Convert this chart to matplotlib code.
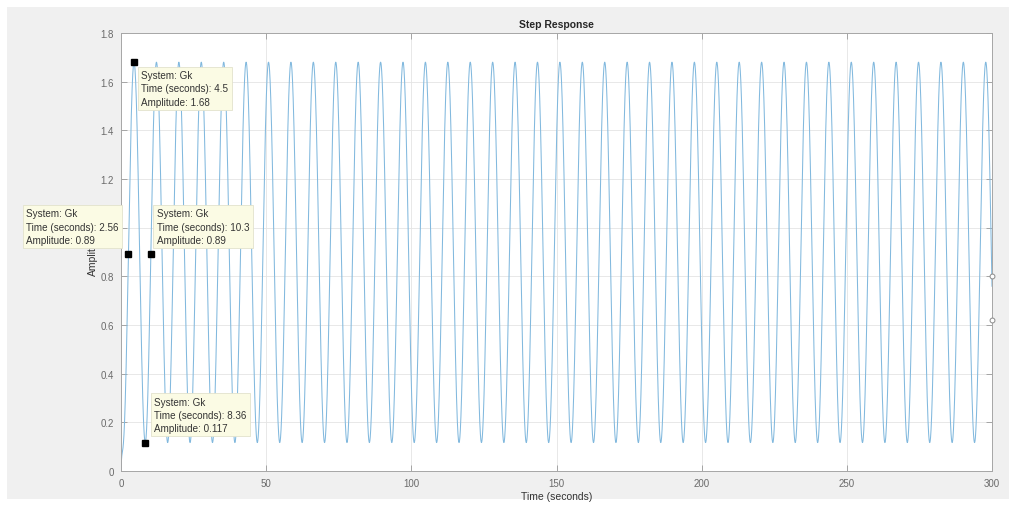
#!/usr/bin/env python3
"""
Step response of Gk: sustained oscillation read from the MATLAB data tips.
"""

import numpy as np
import matplotlib
matplotlib.use('Agg')
import matplotlib.pyplot as plt
from matplotlib.patches import Rectangle

# Data tips (time in seconds, amplitude)
tip_time = [2.56, 4.5, 8.36, 10.3]
tip_amp = [0.89, 1.68, 0.117, 0.89]

# Oscillation
peak_amp = 1.68
trough_amp = 0.117
period = 7.72          # 2 * (8.36 - 4.5)
up_cross = 2.56        # rising crossing of the mean
fast_tau = 0.3         # fast decaying pole, only shapes the first rise
t_end = 300.0

# Little circles at the right end of the curve
end_time = [300, 300]
end_amp = [0.80, 0.62]

x_ticks = [0, 50, 100, 150, 200, 250, 300]
y_ticks = [0, 0.2, 0.4, 0.6, 0.8, 1.0, 1.2, 1.4, 1.6, 1.8]

# Label offsets (pixels) of each data tip box
tip_offsets = [(-102, 46), (7, -8), (9, 46), (6, 46)]


def step_response():
    """Undamped mode plus a fast real pole, starting from zero."""
    t = np.arange(0, t_end + 0.01, 0.02)
    mean = (peak_amp + trough_amp) / 2
    amp = (peak_amp - trough_amp) / 2
    w = 2 * np.pi / period
    osc = mean + amp * np.sin(w * (t - up_cross))
    c0 = -(mean + amp * np.sin(-w * up_cross))
    return t, osc + c0 * np.exp(-t / fast_tau)


def main():
    plt.rcParams['font.family'] = ['Liberation Sans', 'DejaVu Sans']

    fig = plt.figure(figsize=(10.09, 5.06), dpi=100)
    fig.patch.set_facecolor('white')
    fig.patches.append(Rectangle((7 / 1009, 6 / 506), 1 - 7 / 1009, 1 - 14 / 506,
                                 transform=fig.transFigure, facecolor='#f0f0f0',
                                 edgecolor='none', zorder=-10))

    ax = fig.add_axes([121 / 1009, 1 - 472 / 506, 871 / 1009, 438 / 506])
    ax.set_facecolor('white')

    t, y = step_response()
    ax.plot(t, y, color='#82b9de', linewidth=0.75, zorder=2)

    ax.plot(end_time, end_amp, linestyle='none', marker='o', markersize=3.5,
            markerfacecolor='white', markeredgecolor='#8a8a8a', markeredgewidth=0.7,
            clip_on=False, zorder=4)

    # Data tips
    ax.plot(tip_time, tip_amp, linestyle='none', marker='s', markersize=5,
            color='black', zorder=5)
    for tt, aa, off in zip(tip_time, tip_amp, tip_offsets):
        label = f"System: Gk\nTime (seconds): {tt:g}\nAmplitude: {aa:g}"
        ax.annotate(label, xy=(tt, aa), xytext=off, textcoords='offset pixels',
                    ha='left', va='top', fontsize=7.1, color='#333333',
                    linespacing=1.4, annotation_clip=False, zorder=6,
                    bbox=dict(boxstyle='square,pad=0.35', facecolor='#fbfbe4',
                              edgecolor='#e2e2cc', linewidth=0.6))

    ax.set_xlim(0, 300)
    ax.set_ylim(0, 1.8)
    ax.set_xticks(x_ticks)
    ax.set_yticks(y_ticks)
    ax.set_xticklabels([f"{v:g}" for v in x_ticks])
    ax.set_yticklabels([f"{v:g}" for v in y_ticks])

    ax.grid(True, color='#e4e4e4', linewidth=0.6)
    ax.set_axisbelow(True)
    ax.tick_params(direction='in', length=4, width=0.6, colors='#9a9a9a',
                   labelcolor='#6a6a6a', labelsize=7, top=True, right=True, pad=5)
    for side in ax.spines.values():
        side.set_color('#a6a6a6')
        side.set_linewidth(0.7)

    ax.set_title('Step Response', fontsize=7.5, fontweight='bold', color='#262626', pad=4)
    ax.set_xlabel('Time (seconds)', fontsize=7.5, color='#333333', labelpad=2)
    ax.set_ylabel('Amplitude', fontsize=7.5, color='#333333', labelpad=2)

    fig.savefig('out.png', dpi=100)


if __name__ == '__main__':
    main()
